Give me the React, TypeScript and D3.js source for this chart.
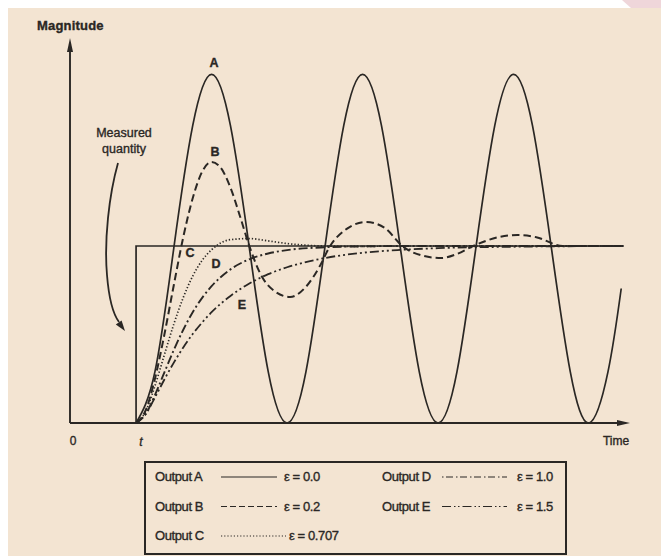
import * as d3 from "d3";

// time is in quarter periods of output A, the step comes at STEP_TIME
const STEP_TIME = 1.75;
const END_TIME = 14.7;
const Y_MAX = 2.15;

// measured quantity: a unit step
const stepTimes = [0, STEP_TIME, STEP_TIME, 14.67];
const stepValues = [0, 0, 1, 1];

// output A, e = 0.0 (times after the step)
const aTimes = [0, 0.5, 1, 1.5, 2, 2.5, 3, 3.5, 4, 4.5, 5, 5.5, 6, 6.5, 7, 7.5, 8, 8.5, 9, 9.5, 10, 10.5, 11, 11.5, 12, 12.5, 12.85];
const aValues = [0, 0.29, 0.99, 1.68, 1.97, 1.68, 0.99, 0.29, 0, 0.29, 0.99, 1.68, 1.97, 1.68, 0.99, 0.29, 0, 0.29, 0.99, 1.68, 1.97, 1.68, 0.99, 0.29, 0, 0.29, 0.76];

// output B, e = 0.2
const bTimes = [0, 0.25, 0.5, 0.75, 1, 1.25, 1.5, 1.75, 2, 2.25, 2.5, 2.75, 3, 3.3, 3.7, 4.08, 4.5, 4.85, 5.14, 5.6, 6.1, 6.6, 7.05, 7.6, 8.08, 8.5, 8.93, 9.6, 10.1, 10.6, 11.3, 12.9];
const bValues = [0, 0.07, 0.25, 0.5, 0.78, 1.05, 1.27, 1.42, 1.475, 1.44, 1.33, 1.17, 1.0, 0.84, 0.74, 0.712, 0.77, 0.88, 1.0, 1.1, 1.136, 1.1, 1.0, 0.945, 0.932, 0.955, 1.0, 1.05, 1.062, 1.05, 1.0, 1.0];

// outputs C, D, E share one time grid
const riseTimes = [0, 0.25, 0.5, 0.75, 1, 1.25, 1.5, 1.75, 2, 2.5, 3, 3.5, 4, 5, 6, 7, 8, 10, 12.9];
const cValues = [0, 0.064, 0.21, 0.386, 0.559, 0.709, 0.83, 0.919, 0.979, 1.036, 1.042, 1.029, 1.014, 1.0, 0.998, 1, 1, 1, 1];
const dValues = [0, 0.049, 0.158, 0.286, 0.413, 0.527, 0.626, 0.707, 0.773, 0.868, 0.925, 0.958, 0.977, 0.993, 0.998, 1, 1, 1, 1];
const eValues = [0, 0.049, 0.144, 0.246, 0.341, 0.427, 0.503, 0.568, 0.626, 0.718, 0.788, 0.841, 0.88, 0.932, 0.962, 0.978, 0.988, 0.996, 1.0];

const legendRows = [
  {name: "Output A", eps: "ε = 0.0", dash: "none", col: 0, row: 0},
  {name: "Output B", eps: "ε = 0.2", dash: "6 3", col: 0, row: 1},
  {name: "Output C", eps: "ε = 0.707", dash: "1.2 2", col: 0, row: 2},
  {name: "Output D", eps: "ε = 1.0", dash: "1.5 2.5 7 3", col: 1, row: 0},
  {name: "Output E", eps: "ε = 1.5", dash: "9 3 1.5 2.5 1.5 3", col: 1, row: 1},
];

const INK = "#2a2724";
const BG = "#f3e4d2";
const FONT = "'Liberation Sans', Arial, sans-serif";

const x = d3.scaleLinear().domain([0, END_TIME]).range([70, 625]);
const y = d3.scaleLinear().domain([0, Y_MAX]).range([423, 42.5]);

const pairs = (times: number[], values: number[], offset: number) =>
  times.map((t, i) => [t + offset, values[i]] as [number, number]);

const smooth = d3.line<[number, number]>().x(d => x(d[0])).y(d => y(d[1])).curve(d3.curveMonotoneX);
const wave = d3.line<[number, number]>().x(d => x(d[0])).y(d => y(d[1])).curve(d3.curveNatural);
const straight = d3.line<[number, number]>().x(d => x(d[0])).y(d => y(d[1]));

const App = () => {
  const series = [
    {d: wave(pairs(aTimes, aValues, STEP_TIME)), dash: "none", w: 1.7},
    {d: smooth(pairs(bTimes, bValues, STEP_TIME)), dash: "7.5 4", w: 2},
    {d: smooth(pairs(riseTimes, cValues, STEP_TIME)), dash: "1.3 2", w: 1.7},
    {d: smooth(pairs(riseTimes, dValues, STEP_TIME)), dash: "9 3 2 3", w: 1.9},
    {d: smooth(pairs(riseTimes, eValues, STEP_TIME)), dash: "9 3 2 3 2 3", w: 1.8},
  ];

  const x0 = x(0), y0 = y(0);
  // a thin outline gives the text the weight of the printed figure
  const textStyle = {fontFamily: FONT, fill: INK, stroke: INK, strokeWidth: 0.35};

  return (
    <div style={{position: "absolute", left: 0, top: 0}}>
      <svg width={661} height={556} style={{display: "block"}}>
        <rect x={0} y={0} width={661} height={556} fill="#ffffff"/>
        <rect x={8} y={8} width={653} height={548} fill={BG}/>
        <polygon points="622,0 661,0 661,8 631,8" fill="#efd6da"/>

        {/* axes */}
        <line x1={x0} y1={y0} x2={x0} y2={48} stroke={INK} strokeWidth={1.9}/>
        <polygon points={`${x0},38 ${x0 - 3},52 ${x0 + 3},52`} fill={INK}/>
        <line x1={x0} y1={y0} x2={620} y2={y0} stroke={INK} strokeWidth={1.9}/>
        <polygon points={`630,${y0} 617,${y0 - 3} 617,${y0 + 3}`} fill={INK}/>

        {/* measured quantity */}
        <path d={straight(pairs(stepTimes, stepValues, 0)) || ""} fill="none" stroke={INK} strokeWidth={1.7}/>

        {series.map((s, i) => (
          <path key={i} d={s.d || ""} fill="none" stroke={INK} strokeWidth={s.w}
                strokeDasharray={s.dash}/>
        ))}

        {/* curve labels */}
        <g style={{...textStyle, fontWeight: 700, fontSize: 12.5}} textAnchor="middle">
          <text x={214} y={67}>A</text>
          <text x={215} y={156}>B</text>
          <text x={190} y={257}>C</text>
          <text x={216} y={268}>D</text>
          <text x={242} y={309}>E</text>
        </g>

        <text x={37} y={30} style={{...textStyle, fontWeight: 700, fontSize: 13, letterSpacing: 0.2}}>Magnitude</text>
        <g style={{...textStyle, fontSize: 12.5}} textAnchor="middle">
          <text x={124} y={137}>Measured</text>
          <text x={124} y={153}>quantity</text>
        </g>
        <path d="M118,163 C109,195 104,240 107,275 C109,300 113,314 119,322" fill="none" stroke={INK} strokeWidth={1.8}/>
        <polygon points="125,331 115.8,324.5 121.6,320.4" fill={INK}/>

        <text x={73} y={445} style={{...textStyle, fontSize: 12}} textAnchor="middle">0</text>
        <text x={141} y={446} style={{...textStyle, fontSize: 12, fontStyle: "italic"}} textAnchor="middle">t</text>
        <text x={616} y={445} style={{...textStyle, fontSize: 12}} textAnchor="middle">Time</text>

        {/* legend */}
        <rect x={145} y={462} width={421} height={92} fill="none" stroke={INK} strokeWidth={2}/>
        {legendRows.map((r, i) => {
          const ty = 481 + r.row * 29.5;
          const tx = r.col === 0 ? 155 : 382;
          const lx1 = r.col === 0 ? 221 : 442;
          const lx2 = r.col === 0 ? (r.row === 2 ? 286 : 277) : 507;
          const ex = r.col === 0 ? (r.row === 2 ? 289 : 284) : 517;
          return (
            <g key={i} style={{...textStyle, fontSize: 13, letterSpacing: -0.4}}>
              <text x={tx} y={ty}>{r.name}</text>
              <line x1={lx1} y1={ty - 4} x2={lx2} y2={ty - 4} stroke={INK} strokeWidth={1.2}
                    strokeDasharray={r.dash}/>
              <text x={ex} y={ty}>{r.eps}</text>
            </g>
          );
        })}
      </svg>
    </div>
  );
};

export default App;
